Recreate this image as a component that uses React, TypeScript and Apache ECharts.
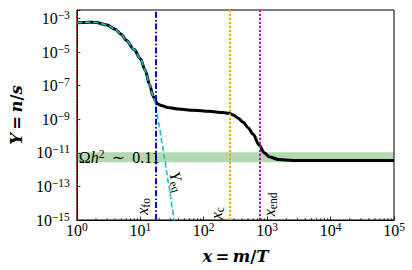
import React, { useEffect, useRef } from 'react';
import * as echarts from 'echarts';

// ---- data (real values, log-log plot) ----
const xLimits = [1, 1e5];
const yLimits = [1e-15, 3.16e-3];
const xTickExponents = [0, 1, 2, 3, 4, 5];
const yTickExponents = [-15, -13, -11, -9, -7, -5, -3];

// Y = n/s (solid black)
const xY = [1, 1.5, 2, 3, 4, 5, 6, 8, 10, 12, 14, 16, 17.5, 19, 22, 27, 40, 70, 120, 200, 250, 300, 350, 420, 500, 600, 750, 900, 1100, 1500, 2500, 100000];
const yY = [5.5e-4, 6.0e-4, 5.75e-4, 4.0e-4, 2.24e-4, 1.12e-4, 5.0e-5, 1.4e-5, 4.0e-6, 7.9e-7, 1.12e-7, 2.24e-8, 1.12e-8, 7.9e-9, 6.3e-9, 5.0e-9, 4.0e-9, 3.4e-9, 2.95e-9, 2.5e-9, 2.25e-9, 1.7e-9, 1.15e-9, 6.5e-10, 3.1e-10, 1.3e-10, 2.8e-11, 1.0e-11, 5.6e-12, 4.0e-12, 3.5e-12, 3.5e-12];

// Y_eq (dashed cyan)
const xEq = [1, 1.5, 2, 3, 4, 5, 6, 8, 10, 12, 14, 16, 17, 18, 19, 20, 22, 24, 26, 28, 30, 32, 34, 36];
const yEq = [5.5e-4, 6.0e-4, 5.75e-4, 4.0e-4, 2.24e-4, 1.12e-4, 5.0e-5, 1.4e-5, 4.0e-6, 7.9e-7, 1.12e-7, 2.24e-8, 1.0e-8, 3.5e-9, 1.12e-9, 3.5e-10, 4.0e-11, 5.0e-12, 7.9e-13, 1.4e-13, 2.5e-14, 5.0e-15, 1.0e-15, 2.0e-16];

// relic band  Omega h^2 ~ 0.11
const omegaBand = [2.75e-12, 1.07e-11];

// characteristic x values
const xStart = 1;
const xFo = 17.6;
const xC = 255;
const xEnd = 770;

const L = Math.log10;
const SERIF = "'Liberation Serif', 'DejaVu Serif', serif";
const TITLE_FONT = "'DejaVu Serif', serif";
const FS = 16;
const SUP = 11.5;
const Y_TOP_EXP = -2.5;

const pts = (xs: number[], ys: number[]) => xs.map((x, i) => [L(x), L(ys[i])]);

function powLabel(v: number) {
  if (Math.abs(v - Math.round(v)) > 1e-6) return '';
  const n = Math.round(v);
  return `{b|10}{s|${n < 0 ? '\u2212' + -n : n}}`;
}

const tickRich = {
  b: { fontSize: FS, fontFamily: SERIF, color: '#000', lineHeight: 19 },
  s: { fontSize: SUP, fontFamily: SERIF, color: '#000', lineHeight: 12, verticalAlign: 'top' },
};

const titleRich = {
  b: { fontSize: 16.5, fontFamily: TITLE_FONT, fontWeight: 'bold', fontStyle: 'italic', color: '#000' },
  u: { fontSize: 16.5, fontFamily: TITLE_FONT, fontWeight: 'bold', color: '#000' },
};

const minorTicks: number[][] = [];
for (let d = xTickExponents[0]; d < xTickExponents[xTickExponents.length - 1]; d++) {
  for (let k = 2; k <= 9; k++) minorTicks.push([d + L(k), L(yLimits[0])]);
}

export default function App() {
  const ref = useRef<HTMLDivElement>(null);
  useEffect(() => {
    document.body.style.margin = '0';
    const chart = echarts.init(ref.current!, null, { renderer: 'svg' });
    const option: any = {
      animation: false,
      backgroundColor: '#fff',
      grid: { left: 70, right: 18, top: 10, bottom: 49, show: true, borderColor: '#000', borderWidth: 1, backgroundColor: 'transparent' },
      xAxis: {
        type: 'value',
        min: L(xLimits[0]),
        max: L(xLimits[1]),
        interval: 1,
        axisLine: { show: true, onZero: false, lineStyle: { color: '#000', width: 1 } },
        axisTick: { show: true, inside: true, length: 3.5, lineStyle: { color: '#000', width: 0.8 } },
        splitLine: { show: false },
        axisLabel: { margin: 1, formatter: powLabel, rich: tickRich },
        name: '{b|x} {u|=} {b|m}{u|/}{b|T}',
        nameLocation: 'middle',
        nameGap: 28,
        nameTextStyle: { rich: titleRich },
      },
      yAxis: {
        type: 'value',
        min: L(yLimits[0]),
        max: Y_TOP_EXP,
        interval: 2,
        axisLine: { show: true, onZero: false, lineStyle: { color: '#000', width: 1 } },
        axisTick: { show: true, inside: true, length: 3.5, lineStyle: { color: '#000', width: 0.8 } },
        splitLine: { show: false },
        axisLabel: { margin: 7, formatter: powLabel, rich: tickRich },
        name: '{b|Y} {u|=} {b|n}{u|/}{b|s}',
        nameLocation: 'middle',
        nameGap: 47,
        nameTextStyle: { rich: titleRich },
      },
      series: [
        {
          type: 'custom',
          silent: true,
          data: minorTicks,
          renderItem: (_p: any, api: any) => {
            const p = api.coord([api.value(0), api.value(1)]);
            return { type: 'line', shape: { x1: p[0], y1: p[1], x2: p[0], y2: p[1] - 2 }, style: { stroke: '#000', lineWidth: 0.7 } };
          },
          z: 5,
        },
        {
          type: 'line',
          name: 'Y',
          data: pts(xY, yY),
          showSymbol: false,
          smooth: 0.3,
          smoothMonotone: 'x',
          lineStyle: { color: '#000', width: 3 },
          z: 3,
          markArea: {
            silent: true,
            itemStyle: { color: 'rgba(0,128,0,0.3)' },
            data: [[{ yAxis: L(omegaBand[0]) }, { yAxis: L(omegaBand[1]) }]],
          },
          markLine: {
            silent: true,
            symbol: ['none', 'none'],
            label: { show: false },
            data: [
              { xAxis: L(xFo), lineStyle: { color: '#0000ff', width: 2, type: [6, 2.2, 1.5, 2.2] } },
              { xAxis: L(xC), lineStyle: { color: '#ffa500', width: 2, type: [2.2, 1.8] } },
              { xAxis: L(xEnd), lineStyle: { color: '#c000c0', width: 2, type: [2.2, 1.8] } },
            ],
          },
        },
        {
          type: 'line',
          name: 'Yeq',
          data: pts(xEq, yEq),
          showSymbol: false,
          smooth: 0.3,
          smoothMonotone: 'x',
          lineStyle: { color: '#17becf', width: 1.6, type: [5.5, 2.6] },
          z: 4,
        },
        {
          type: 'line',
          name: 'xStart',
          data: [[L(xStart), L(yLimits[0])], [L(xStart), Y_TOP_EXP]],
          showSymbol: false,
          clip: false,
          silent: true,
          lineStyle: { color: '#ff2020', width: 1.3, type: [1.3, 1.6] },
          z: 10,
        },
      ],
    };
    chart.setOption(option);

    const px = (x: number, y: number) => chart.convertToPixel({ gridIndex: 0 }, [x, y]) as number[];
    const mathRich = {
      i: { fontSize: FS, fontFamily: SERIF, fontStyle: 'italic', fill: '#000', lineHeight: 19 },
      n: { fontSize: FS, fontFamily: SERIF, fill: '#000', lineHeight: 19 },
      sub: { fontSize: SUP, fontFamily: SERIF, fill: '#000', lineHeight: 11, verticalAlign: 'bottom' },
      sup: { fontSize: SUP, fontFamily: SERIF, fill: '#000', lineHeight: 12, verticalAlign: 'top' },
    };
    const txt = (p: number[], rot: number, text: string, align = 'center') => ({
      type: 'text',
      x: p[0],
      y: p[1],
      rotation: rot,
      silent: true,
      z: 100,
      style: { text, rich: mathRich, align, verticalAlign: 'middle', fill: '#000', fontFamily: SERIF, fontSize: FS },
    });
    const bandMid = (L(omegaBand[0]) + L(omegaBand[1])) / 2;
    chart.setOption({
      graphic: [
        txt(px(0.03, bandMid), 0, '{n|\u03A9}{i|h}{sup|2}{n| \u2009\u223C\u2009 0.11}', 'left'),
        txt(px(1.03, -14.19), Math.PI / 2, '{i|x}{sub|fo}'),
        txt(px(1.58, -12.7), -1.29, '{i|Y}{sub|eq}'),
        txt(px(2.2, -14.6), Math.PI / 2, '{i|x}{sub|c}'),
        txt(px(3.03, -14.07), Math.PI / 2, '{i|x}{sub|end}'),
      ],
    });
    return () => chart.dispose();
  }, []);
  return <div ref={ref} style={{ position: 'absolute', left: 0, top: 0, width: 412, height: 270, background: '#fff' }} />;
}
